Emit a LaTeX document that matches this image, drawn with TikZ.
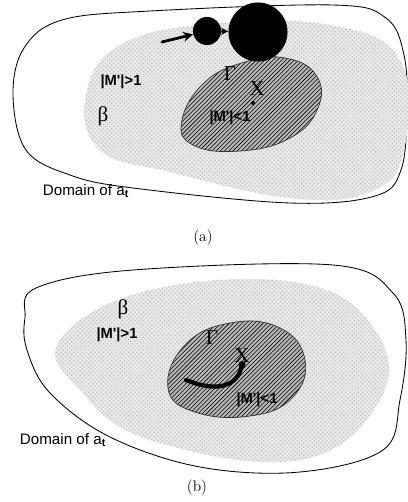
\documentclass[tikz,border=0pt]{standalone}
\usepackage{fontspec}
\usepackage{tikz}
\usetikzlibrary{arrows.meta, patterns, positioning}
\newfontfamily\labfont{Liberation Sans}
\newfontfamily\grfont{Liberation Serif}

\begin{document}
\begin{tikzpicture}[
    x=0.025cm, y=-0.025cm,
    region/.style={draw=black, line width=0.6pt, fill=white},
    stipple/.style={fill=gray!18, draw=none, postaction={pattern=crosshatch dots, pattern color=gray!55}},
    hatched/.style={preaction={fill=gray!55}, pattern=north east lines, pattern color=black, draw=black!80, line width=0.5pt},
    lab/.style={font=\labfont\bfseries\fontsize{10.5}{12}\selectfont, inner sep=1pt},
    dlab/.style={font=\labfont\fontsize{10.8}{13}\selectfont, inner sep=1pt},
    greek/.style={font=\grfont\fontsize{15}{17}\selectfont, inner sep=1pt},
    caption/.style={font=\fontsize{11}{13}\selectfont, inner sep=1pt},
    ball/.style={circle, fill=black, inner sep=0pt},
    traj/.style={line width=2pt, line cap=round, -{Stealth[length=7pt, width=7pt]}}
]
    \useasboundingbox (0,0) rectangle (408,502);

    % (a) Domain
    \draw [region] plot [smooth cycle, tension=0.6] coordinates {
        (13,95) (24,48) (62,20) (150,11) (333,5) (386,18) (404,55)
        (407,110) (401,170) (375,196) (290,203) (133,188) (70,175) (26,150)};
    \fill [stipple] plot [smooth cycle, tension=0.7] coordinates {
        (86,95) (120,45) (210,24) (330,25) (400,60) (404,150)
        (370,192) (290,198) (170,172) (100,150)};
    \draw [hatched] plot [smooth cycle, tension=0.75] coordinates {
        (182,120) (205,82) (245,62) (285,58) (316,75)
        (318,108) (290,138) (240,151) (193,145)};

    % (a) Moving points
    \coordinate (sa) at (162,42);
    \node [ball, minimum size=20] (ca1) at (207,31) {};
    \node [ball, minimum size=42] (ca2) at (258,32) {};
    \draw [traj] (sa) -- (ca1);
    \draw [line width=2pt, -{Stealth[length=5pt, width=5pt]}] (ca1) -- (ca2);

    % (a) Labels
    \node [lab] (ma1) at (121,82) {|M'|>1};
    \node [greek] (ba) at (103,116) {β};
    \node [greek] (ga) at (230,74) {Γ};
    \node [greek] (xa) at (257,89) {X};
    \node [ball, minimum size=3] (pa) at (253,103) {};
    \node [lab] (mb1) at (230,118) {|M'|<1};
    \node [dlab] (da) at (86,191) {Domain of a\textsubscript{\textbf{t}}};
    \node [caption] (capa) at (203,238) {(a)};

    % (b) Domain
    \draw [region] plot [smooth cycle, tension=0.6] coordinates {
        (25,318) (36,288) (133,270) (333,265) (393,293) (406,340)
        (400,400) (383,450) (300,472) (200,467) (110,437) (50,393) (27,350)};
    \fill [stipple] plot [smooth cycle, tension=0.7] coordinates {
        (60,340) (150,290) (300,283) (375,330) (380,400)
        (300,460) (150,440) (80,390)};
    \draw [hatched] plot [smooth cycle, tension=0.75] coordinates {
        (168,388) (185,345) (230,323) (280,328) (305,360)
        (292,398) (250,416) (195,412)};

    % (b) Labels and trajectory
    \node [greek] (bb) at (123,309) {β};
    \node [lab] (mb2) at (117,335) {|M'|>1};
    \node [greek] (gb) at (212,338) {Γ};
    \node [greek] (xb) at (242,356) {X};
    \coordinate (sb) at (186,380);
    \draw [line width=3pt, line cap=round] (sb) .. controls (215,392) and (238,388) .. (xb.south);
    \node [ball, minimum size=5] (pb) at (xb.south) {};
    \node [lab] (mb3) at (257,400) {|M'|<1};
    \node [dlab] (db) at (63,440) {Domain of a\textsubscript{\textbf{t}}};
    \node [caption] (capb) at (197,488) {(b)};
\end{tikzpicture}
\end{document}
